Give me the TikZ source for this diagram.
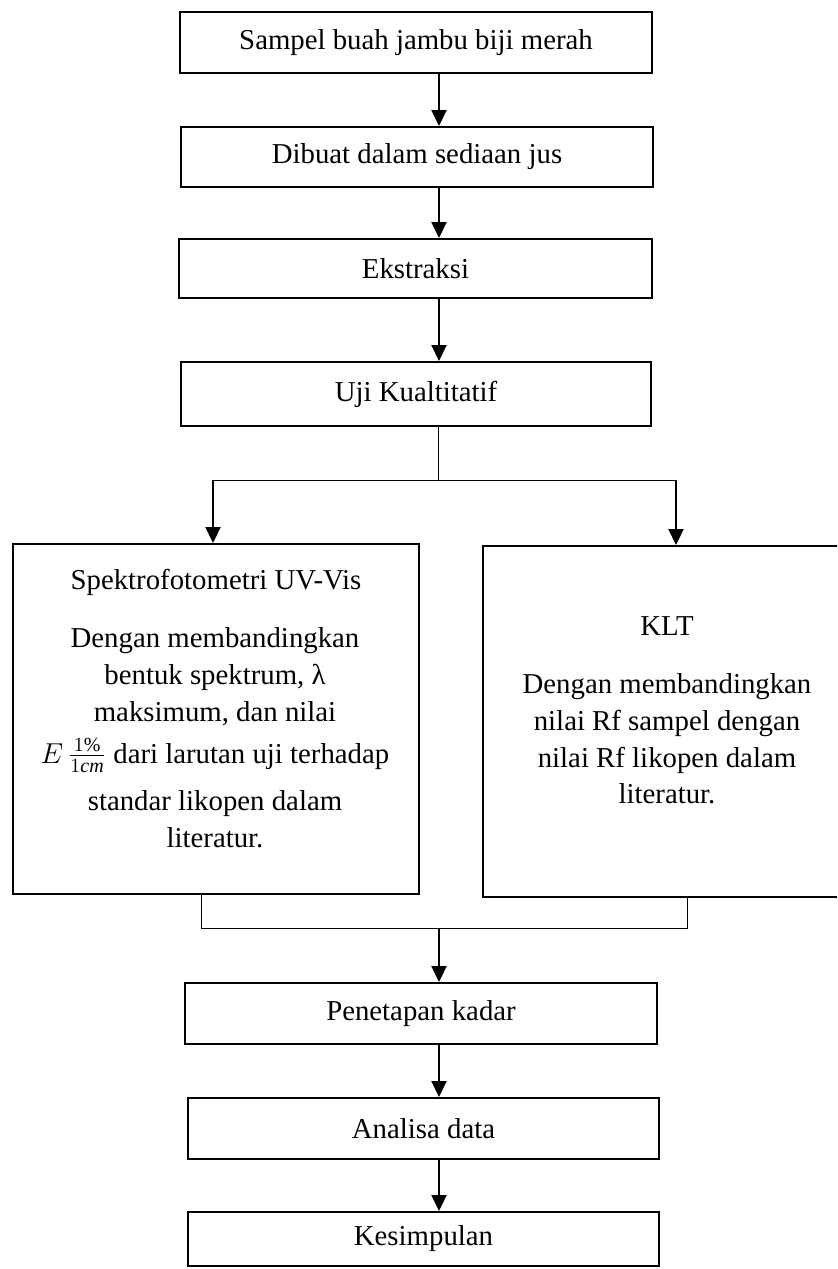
\documentclass[tikz,border=0pt]{standalone}
\usepackage{fontspec}
\setmainfont{Liberation Serif}
\usetikzlibrary{arrows.meta}
\newcommand\myfs{\fontsize{14.4pt}{18pt}\selectfont}
\begin{document}
\begin{tikzpicture}[x=0.5pt,y=-0.5pt,
  box/.style={draw,line width=1pt,rectangle,inner sep=0pt,font=\myfs},
  thinline/.style={line width=0.5pt},
  arr/.style={line width=1.1pt,-{Triangle[width=7.5pt,length=8pt]}},
  txt/.style={inner sep=0pt,anchor=base,font=\myfs}]
\useasboundingbox (0,0) rectangle (837,1269);
\clip (0,0) rectangle (837,1269);
\fill[white] (0,0) rectangle (837,1269);

% boxes
\node[box,minimum width=236pt,minimum height=30.5pt] (b1) at (416,42.5) {Sampel buah jambu biji merah};
\node[box,minimum width=236pt,minimum height=30pt] (b2) at (417,157) {Dibuat dalam sediaan jus};
\node[box,minimum width=236.5pt,minimum height=29.5pt] (b3) at (415.5,268.5) {Ekstraksi};
\node[box,minimum width=235pt,minimum height=32pt] (b4) at (416,394) {Uji Kualtitatif};
\node[box,minimum width=203pt,minimum height=175pt] (b5) at (216,719) {};
\node[box,minimum width=184pt,minimum height=175.5pt] (b6) at (667,721.5) {};
\node[box,minimum width=236pt,minimum height=30.5pt] (b7) at (421,1013.5) {Penetapan kadar};
\node[box,minimum width=235.5pt,minimum height=30.5pt] (b8) at (423.5,1128.5) {Analisa data};
\node[box,minimum width=235.5pt,minimum height=27pt] (b9) at (423.5,1239) {Kesimpulan};

% texts of the left box
\node[txt] (t1) at (216,589) {Spektrofotometri UV-Vis};
\node[txt] (t2) at (215,647) {Dengan membandingkan};
\node[txt] (t3) at (215,684) {bentuk spektrum, λ};
\node[txt] (t4) at (215,721) {maksimum, dan nilai};
\node[txt] (t5) at (215,763) {$E\,\frac{1\%}{1\mathit{cm}}$ dari larutan uji terhadap};
\node[txt] (t6) at (215,810) {standar likopen dalam};
\node[txt] (t7) at (215,847) {literatur.};

% texts of the right box
\node[txt] (k1) at (667,635) {KLT};
\node[txt] (k2) at (667,693) {Dengan membandingkan};
\node[txt] (k3) at (667,730) {nilai Rf sampel dengan};
\node[txt] (k4) at (667,767) {nilai Rf likopen dalam};
\node[txt] (k5) at (667,803) {literatur.};

% connectors
\coordinate (cx) at (439,0);
\draw[arr] (b1.south -| cx) -- (b2.north -| cx);
\draw[arr] (b2.south -| cx) -- (b3.north -| cx);
\draw[arr] (b3.south -| cx) -- (b4.north -| cx);

\coordinate (jt) at (438,480);
\coordinate (jl) at (213,480);
\coordinate (jr) at (676,480);
\draw[thinline] (b4.south -| jt) -- (jt);
\draw[thinline] (jl) -- (jr);
\draw[arr] (jl) -- (b5.north -| jl);
\draw[arr] (jr) -- (b6.north -| jr);

\coordinate (ml) at (201,928);
\coordinate (mr) at (687,928);
\coordinate (mc) at (439,928);
\draw[thinline] (b5.south -| ml) -- (ml) -- (mr) -- (b6.south -| mr);
\draw[arr] (mc) -- (b7.north -| mc);
\draw[arr] (b7.south -| cx) -- (b8.north -| cx);
\draw[arr] (b8.south -| cx) -- (b9.north -| cx);
\end{tikzpicture}
\end{document}
